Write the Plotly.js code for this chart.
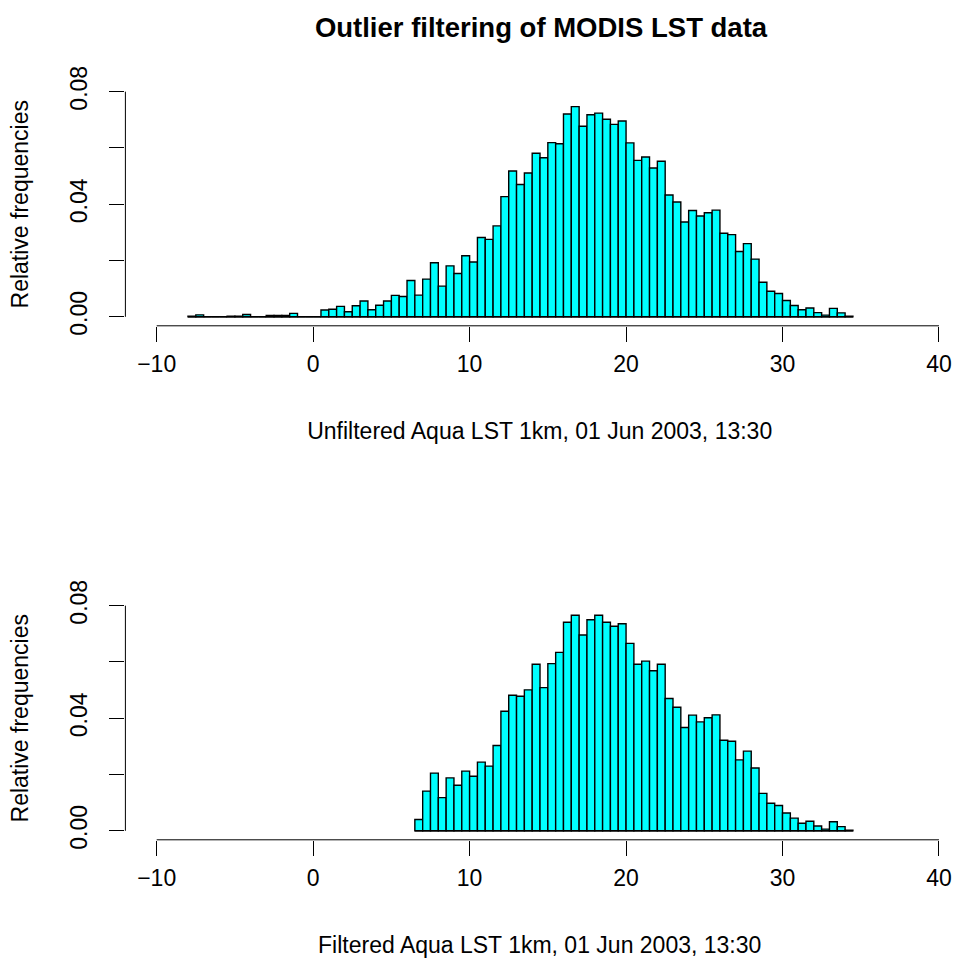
<!DOCTYPE html>
<html>
<head>
<meta charset="utf-8">
<script src="https://cdn.plot.ly/plotly-3.0.1.min.js"></script>
<style>html,body{margin:0;padding:0;background:#fff;}#chart{width:954px;height:958px;}</style>
</head>
<body>
<div id="chart"></div>
<script>
// ---- data ----
const binWidth = 0.5;
const unfilteredStart = -8;
const unfilteredFreq = [
  0.0002, 0.0007, 0, 0, 0, 0.0002, 0.0002, 0.0008, 0, 0, 0.0005, 0.0005, 0.0005, 0.0012, 0, 0,
  0, 0.0024, 0.0027, 0.0037, 0.0018, 0.0039, 0.0056, 0.0025, 0.0041, 0.0056, 0.0076, 0.0072,
  0.0129, 0.0077, 0.0134, 0.0192, 0.0109, 0.0181, 0.0154, 0.0217, 0.0195, 0.0282, 0.0275, 0.0323,
  0.0427, 0.0518, 0.0470, 0.0511, 0.0581, 0.0565, 0.0619, 0.0615, 0.0721, 0.0747, 0.0677, 0.0718,
  0.0724, 0.0702, 0.0684, 0.0696, 0.0618, 0.0556, 0.0568, 0.0529, 0.0553, 0.0433, 0.0408, 0.0337,
  0.0378, 0.0358, 0.0370, 0.0379, 0.0297, 0.0292, 0.0232, 0.0260, 0.0205, 0.0123, 0.0091, 0.0083,
  0.0058, 0.0040, 0.0025, 0.0031, 0.0015, 0.0006, 0.0030, 0.0014, 0.0002
];
const filteredStart = 6.5;
const filteredFreq = [
  0.0040, 0.0141, 0.0205, 0.0118, 0.0188, 0.0162, 0.0212, 0.0194, 0.0244, 0.0230, 0.0303, 0.0425,
  0.0482, 0.0478, 0.0501, 0.0592, 0.0509, 0.0594, 0.0634, 0.0741, 0.0766, 0.0696, 0.0750, 0.0766,
  0.0741, 0.0727, 0.0736, 0.0666, 0.0592, 0.0603, 0.0569, 0.0592, 0.0470, 0.0439, 0.0367, 0.0411,
  0.0387, 0.0402, 0.0412, 0.0322, 0.0318, 0.0252, 0.0283, 0.0223, 0.0133, 0.0098, 0.0090, 0.0063,
  0.0045, 0.0027, 0.0034, 0.0017, 0.0006, 0.0032, 0.0015, 0.0002
];
const xTicks = [-10, 0, 10, 20, 30, 40];
const yTicks = [0, 0.02, 0.04, 0.06, 0.08];
const yTickText = ['0.00', '', '0.04', '', '0.08'];
const mainTitle = 'Outlier filtering of MODIS LST data';
const xTitleTop = 'Unfiltered Aqua LST 1km, 01 Jun 2003, 13:30';
const xTitleBottom = 'Filtered Aqua LST 1km, 01 Jun 2003, 13:30';
const yTitle = 'Relative frequencies';

// ---- chart ----
const FONT = 'Liberation Sans, Arial, Helvetica, sans-serif';
const FS = 23;
const W = 954, H = 958;
const barStyle = {color: '#00FFFF', line: {color: '#000000', width: 1.4}};

function barTrace(start, freq, xa, ya) {
  return {
    type: 'bar', x0: start + binWidth / 2, dx: binWidth, y: freq,
    width: binWidth, marker: barStyle, xaxis: xa, yaxis: ya,
    hoverinfo: 'x+y', showlegend: false
  };
}

const traces = [
  barTrace(unfilteredStart, unfilteredFreq, 'x', 'y'),
  barTrace(filteredStart, filteredFreq, 'x2', 'y2')
];

const xRange = [-12, 40.96];
const yRange = [-0.0032, 0.0832];
const xDomain = [125.4 / W, 1];

function xAxis(title, anchor) {
  return {
    domain: xDomain, range: xRange, anchor: anchor,
    tickmode: 'array', tickvals: xTicks, ticktext: xTicks.map(v => v < 0 ? '\u2212' + Math.abs(v) : String(v)),
    ticks: 'outside', ticklen: 15, tickwidth: 1, tickcolor: '#000',
    showline: false, showgrid: false, zeroline: false,
    tickfont: {family: FONT, size: FS, color: '#000'},
    ticklabelstandoff: 3,
    title: {text: title, font: {family: FONT, size: FS, color: '#000'}, standoff: 46},
    fixedrange: true
  };
}
function yAxis(domainPx, anchor) {
  return {
    domain: [(H - domainPx[1]) / H, (H - domainPx[0]) / H], range: yRange, anchor: anchor,
    tickmode: 'array', tickvals: yTicks, ticktext: yTickText, tickangle: -90,
    ticks: 'outside', ticklen: 15, tickwidth: 1, tickcolor: '#000',
    showline: false, showgrid: false, zeroline: false,
    tickfont: {family: FONT, size: FS, color: '#000'},
    ticklabelstandoff: 13,
    title: {text: yTitle, font: {family: FONT, size: FS, color: '#000'}, standoff: 31},
    fixedrange: true
  };
}

function axisLines(xr, yr) {
  const xd = xr === 'x' ? 'x domain' : 'x2 domain';
  const yd = yr === 'y' ? 'y domain' : 'y2 domain';
  return [
    {type: 'line', xref: xr, yref: yd, x0: Math.min(...xTicks), x1: Math.max(...xTicks), y0: 0, y1: 0,
     line: {color: '#000', width: 1}},
    {type: 'line', xref: xd, yref: yr, x0: 0, x1: 0, y0: Math.min(...yTicks), y1: Math.max(...yTicks),
     line: {color: '#000', width: 1}}
  ];
}
function baseLine(start, freq, xr, yr) {
  return {type: 'line', xref: xr, yref: yr, x0: start, x1: start + freq.length * binWidth, y0: 0, y1: 0,
          line: {color: '#000', width: 1.4}, layer: 'above'};
}

const layout = {
  width: W, height: H,
  margin: {l: 0, r: 0, t: 0, b: 0, pad: 0},
  paper_bgcolor: '#fff', plot_bgcolor: '#fff',
  bargap: 0,
  title: {text: '<b>' + mainTitle + '</b>', font: {family: FONT, size: 27.5, color: '#000'},
          x: 541 / W, xref: 'paper', xanchor: 'center', y: 1 - 27 / H, yref: 'container', yanchor: 'middle'},
  xaxis: xAxis(xTitleTop, 'y'),
  yaxis: yAxis([82.7, 325.8], 'x'),
  xaxis2: xAxis(xTitleBottom, 'y2'),
  yaxis2: yAxis([596.7, 839.8], 'x2'),
  shapes: [
    ...axisLines('x', 'y'), ...axisLines('x2', 'y2'),
    baseLine(unfilteredStart, unfilteredFreq, 'x', 'y'),
    baseLine(filteredStart, filteredFreq, 'x2', 'y2')
  ],
  showlegend: false
};

Plotly.newPlot('chart', traces, layout, {staticPlot: true, displayModeBar: false});
</script>
</body>
</html>
